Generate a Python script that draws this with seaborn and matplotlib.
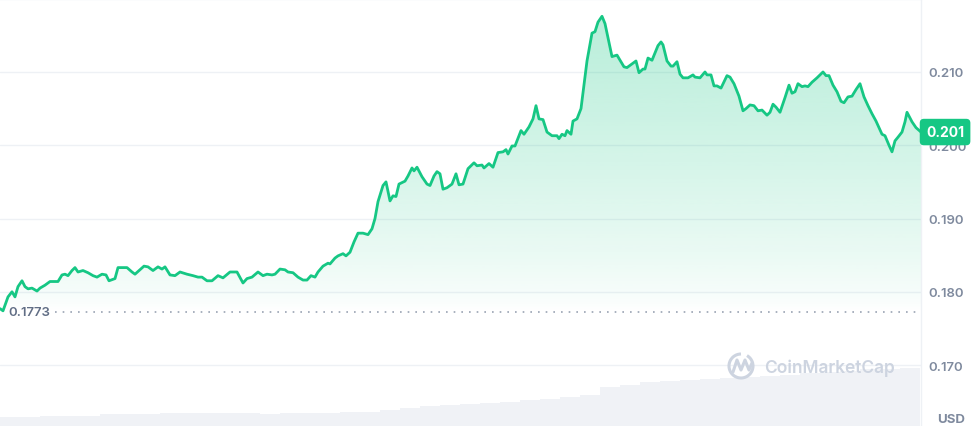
import numpy as np
import pandas as pd
import matplotlib
matplotlib.use("Agg")
import matplotlib.pyplot as plt
import matplotlib.transforms as mtransforms
from matplotlib.patches import Arc
from matplotlib.colors import to_rgb
import seaborn as sns

# ---------------- data ----------------
minutes = [
    0, 4.5, 12, 18, 22.5, 27, 33, 37.5, 42, 48,
    55.5, 60, 67.5, 75, 87, 93, 97.5, 102, 108, 112.5,
    117, 124.5, 132, 139.5, 145.5, 153, 159, 163.5, 172.5, 177,
    190.5, 198, 202.5, 210, 216, 222, 229.5, 237, 243, 247.5,
    255, 262.5, 270, 280.5, 289.5, 297, 303, 310.5, 318, 327,
    334.5, 345, 355.5, 364.5, 370.5, 378, 387, 394.5, 400.5, 408,
    412.5, 420, 427.5, 432, 439.5, 447, 454.5, 460.5, 466.5, 472.5,
    477, 484.5, 492, 495, 502.5, 507, 514.5, 519, 525, 531,
    537, 544.5, 552, 558, 562.5, 567, 574.5, 579, 585, 589.5,
    594, 598.5, 607.5, 612, 618, 621, 625.5, 633, 640.5, 645,
    651, 655.5, 660, 664.5, 670.5, 678, 684, 688.5, 694.5, 702,
    711, 715.5, 723, 726, 733.5, 739.5, 747, 754.5, 759, 762,
    768, 772.5, 781.5, 786, 793.5, 799.5, 804, 808.5, 814.5, 820.5,
    828, 835.5, 838.5, 843, 847.5, 850.5, 856.5, 859.5, 865.5, 871.5,
    880.5, 888, 892.5, 897, 903, 907.5, 918, 925.5, 936, 940.5,
    954, 958.5, 964.5, 967.5, 972, 978, 987, 991.5, 994.5, 1000.5,
    1006.5, 1009.5, 1015.5, 1020, 1024.5, 1032, 1039.5, 1042.5, 1050, 1057.5,
    1060.5, 1066.5, 1071, 1075.5, 1081.5, 1090.5, 1095, 1101, 1108.5, 1114.5,
    1119, 1125, 1131, 1137, 1143, 1150.5, 1155, 1159.5, 1164, 1170,
    1177.5, 1183.5, 1188, 1192.5, 1197, 1203, 1207.5, 1212, 1218, 1225.5,
    1234.5, 1239, 1243.5, 1249.5, 1255.5, 1261.5, 1266, 1272, 1278, 1284,
    1290, 1296, 1302, 1308, 1314, 1323, 1327.5, 1333.5, 1338, 1342.5,
    1347, 1353, 1357.5, 1360.5, 1368, 1374, 1381.5,
]
price_usd = [
    0.1777, 0.1774, 0.1793, 0.1800, 0.1793, 0.1807, 0.1815, 0.1807, 0.1804, 0.1805,
    0.1801, 0.1805, 0.1809, 0.1814, 0.1814, 0.1823, 0.1824, 0.1822, 0.1829, 0.1833,
    0.1827, 0.1829, 0.1826, 0.1822, 0.1820, 0.1824, 0.1823, 0.1815, 0.1818, 0.1833,
    0.1833, 0.1827, 0.1824, 0.1830, 0.1835, 0.1834, 0.1829, 0.1834, 0.1831, 0.1834,
    0.1823, 0.1822, 0.1827, 0.1824, 0.1822, 0.1820, 0.1820, 0.1815, 0.1815, 0.1822,
    0.1819, 0.1827, 0.1827, 0.1812, 0.1818, 0.1820, 0.1827, 0.1822, 0.1824, 0.1823,
    0.1824, 0.1831, 0.1830, 0.1827, 0.1826, 0.1820, 0.1816, 0.1816, 0.1822, 0.1820,
    0.1827, 0.1835, 0.1839, 0.1838, 0.1846, 0.1849, 0.1852, 0.1849, 0.1854, 0.1868,
    0.1880, 0.1880, 0.1878, 0.1886, 0.1900, 0.1923, 0.1945, 0.1950, 0.1924, 0.1931,
    0.1930, 0.1947, 0.1951, 0.1958, 0.1969, 0.1965, 0.1970, 0.1957, 0.1947, 0.1945,
    0.1958, 0.1964, 0.1961, 0.1940, 0.1942, 0.1947, 0.1961, 0.1946, 0.1947, 0.1968,
    0.1976, 0.1972, 0.1973, 0.1969, 0.1975, 0.1970, 0.1990, 0.1991, 0.1994, 0.1988,
    0.1999, 0.1999, 0.2020, 0.2015, 0.2025, 0.2036, 0.2054, 0.2036, 0.2035, 0.2018,
    0.2013, 0.2013, 0.2009, 0.2015, 0.2013, 0.2020, 0.2015, 0.2033, 0.2036, 0.2050,
    0.2115, 0.2153, 0.2155, 0.2168, 0.2176, 0.2166, 0.2121, 0.2123, 0.2107, 0.2106,
    0.2115, 0.2099, 0.2104, 0.2104, 0.2119, 0.2116, 0.2136, 0.2141, 0.2137, 0.2115,
    0.2108, 0.2108, 0.2114, 0.2097, 0.2092, 0.2092, 0.2096, 0.2093, 0.2092, 0.2100,
    0.2096, 0.2096, 0.2081, 0.2081, 0.2078, 0.2095, 0.2093, 0.2084, 0.2067, 0.2047,
    0.2050, 0.2055, 0.2054, 0.2047, 0.2048, 0.2041, 0.2045, 0.2056, 0.2052, 0.2045,
    0.2065, 0.2082, 0.2071, 0.2073, 0.2084, 0.2080, 0.2081, 0.2080, 0.2086, 0.2092,
    0.2100, 0.2095, 0.2095, 0.2082, 0.2073, 0.2060, 0.2058, 0.2066, 0.2067, 0.2076,
    0.2084, 0.2066, 0.2054, 0.2043, 0.2033, 0.2015, 0.2013, 0.2000, 0.1991, 0.2006,
    0.2011, 0.2018, 0.2032, 0.2045, 0.2032, 0.2024, 0.2018,
]
open_price = 0.1773
current_label = "0.201"
y_ticks = [0.170, 0.180, 0.190, 0.200, 0.210]
y_tick_labels = ["0.170", "0.180", "0.190", "0.200", "0.210"]
currency = "USD"

vol_minutes = list(range(15, 1380, 30))
volume = [
    9, 9, 10, 10, 10, 12, 12, 12, 13, 13,
    13.5, 13.5, 13, 12, 13, 13.5, 13.5, 14, 14.5, 16,
    18, 20, 21, 22, 23, 24.5, 26, 27, 29, 31,
    39, 41, 44, 45, 46, 47, 48, 49.5, 50, 51,
    53, 54, 55.5, 57, 57.5, 58.5,
]
assert len(minutes) == len(price_usd)

# ---------------- style ----------------
sns.set_theme(style="white")
plt.rcParams["font.family"] = ["Inter", "DejaVu Sans"]

GREEN = "#16C784"
GRID = "#EEF1F5"
LABEL = "#7F8A9E"

W, H = 975, 427
fig = plt.figure(figsize=(W / 100, H / 100), dpi=100)
fig.patch.set_facecolor("white")

x_left, x_right = minutes[0], minutes[-1]
ax = fig.add_axes([0, 0, 921 / W, 1])
axv = fig.add_axes([0, 0, 921 / W, 70 / H])
ax.set_zorder(2)
axv.set_zorder(1)
ax.patch.set_alpha(0)

# volume bars
df_v = pd.DataFrame({"t": vol_minutes, "v": volume})
sns.barplot(data=df_v, x="t", y="v", ax=axv, native_scale=True, width=1.0,
            color="#F0F2F6", saturation=1, errorbar=None, linewidth=0)
axv.set_xlim(x_left, x_right)
axv.set_ylim(0, 70)
axv.axis("off")

# price line
df = pd.DataFrame({"t": minutes, "p": price_usd})
sns.lineplot(data=df, x="t", y="p", ax=ax, color=GREEN, linewidth=2.0, zorder=4)

# gradient fill under the line
top = max(price_usd)
grad = np.zeros((256, 1, 4))
grad[..., :3] = to_rgb(GREEN)
grad[:, 0, 3] = 0.30 * np.linspace(0, 1, 256) ** 0.75
im = ax.imshow(grad, extent=[x_left, x_right, open_price, top], aspect="auto",
               origin="lower", zorder=1, interpolation="bicubic")
poly = ax.fill_between(minutes, price_usd, open_price, facecolor="none", edgecolor="none")
im.set_clip_path(poly.get_paths()[0], transform=ax.transData)

ax.set_xlim(x_left, x_right)
ax.set_ylim(0.16168, 0.21996)

# grid and spines
ax.set_yticks(y_ticks)
ax.set_yticklabels(y_tick_labels, fontweight="semibold")
ax.yaxis.tick_right()
ax.tick_params(axis="y", length=0, pad=5.5, labelsize=9.5, labelcolor=LABEL)
ax.set_xticks([])
ax.set_xlabel("")
ax.set_ylabel("")
ax.grid(axis="y", color=GRID, linewidth=1)
ax.grid(axis="x", visible=False)
for s in ["left", "bottom"]:
    ax.spines[s].set_visible(False)
for s in ["top", "right"]:
    ax.spines[s].set_visible(True)
    ax.spines[s].set_color(GRID)
    ax.spines[s].set_linewidth(1)

# open price dotted reference
ax.axhline(open_price, xmin=55 / 921, xmax=1, color="#9AA3B3",
           linestyle=(0, (1, 3.6)), linewidth=1.2, zorder=3)
blend = mtransforms.blended_transform_factory(ax.transAxes, ax.transData)
ax.text(8 / 921, open_price, f"{open_price:.4f}", transform=blend, ha="left",
        va="center", fontsize=9.5, fontweight="semibold", color="#616E85", zorder=6)

# current price badge
ax.text(926 / 921, price_usd[-1], current_label, transform=blend, ha="left",
        va="center", fontsize=10, fontweight="bold", color="white", zorder=10,
        clip_on=False,
        bbox=dict(boxstyle="round,pad=0.45,rounding_size=0.3", fc=GREEN, ec="none"))

# decorations (watermark, currency)
deco = fig.add_axes([0, 0, 1, 1])
deco.set_xlim(0, W)
deco.set_ylim(H, 0)
deco.axis("off")
deco.set_zorder(3)
WM = "#CDD4E0"
deco.add_patch(Arc((741, 367), 24, 24, theta1=-60, theta2=270, color=WM, lw=2.2))
deco.plot([733, 737, 741, 745, 749, 752], [373, 361, 371, 361, 371, 364],
          color=WM, lw=2.2, solid_capstyle="round", solid_joinstyle="round")
deco.text(764, 368, "CoinMarketCap", ha="left", va="center", fontsize=12.5,
          fontweight="semibold", color=WM)
deco.text(951, 420, currency, ha="center", va="center", fontsize=9.5,
          fontweight="bold", color=LABEL)

fig.savefig("out.png", dpi=100, facecolor="white")
